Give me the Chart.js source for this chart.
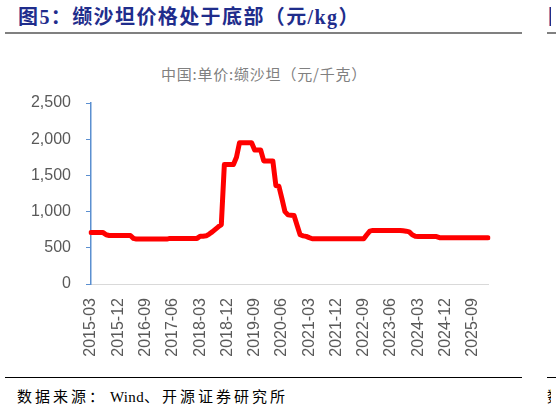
<!DOCTYPE html>
<html>
<head>
<meta charset="utf-8">
<script src="https://cdn.jsdelivr.net/npm/chart.js@4.4.1/dist/chart.umd.min.js"></script>
<style>
  html, body { margin: 0; padding: 0; background: #fff; }
  body { width: 556px; height: 408px; position: relative; overflow: hidden; }
  .abs { position: absolute; }
  #title { left: 18px; top: 1px; font: bold 20px "Liberation Serif", "Noto Sans CJK SC", serif; letter-spacing: 1.4px; color: #1f2d8c; white-space: nowrap; }
  #sub { left: 264px; top: 63px; transform: translateX(-50%); font: 15px "Noto Sans CJK SC", sans-serif; letter-spacing: 0.8px; color: #808080; white-space: nowrap; }
  .rule-top { top: 32px; height: 2px; background: #808080; }
  .rule-bot { top: 377px; height: 1px; background: #000; }
  #source { left: 17px; top: 385px; font: 15px "Liberation Serif", "Noto Sans CJK SC", serif; letter-spacing: 3px; color: #000; white-space: nowrap; }
  #source .lat { letter-spacing: 0.3px; margin-left: 3px; }
  .clip { overflow: hidden; white-space: nowrap; }
  #wrap { left: 0; top: 40px; width: 556px; height: 330px; }
</style>
</head>
<body>
<div id="title" class="abs">图5：缬沙坦价格处于底部（元/kg）</div>
<div class="abs rule-top" style="left:5px;width:517px"></div>
<div class="abs rule-top" style="left:547px;width:9px"></div>
<div class="abs clip" style="left:548px;top:1px;width:3px;font:bold 20px 'Noto Sans CJK SC';color:#1f2d8c">图</div>
<div id="sub" class="abs">中国:单价:缬沙坦（元/千克）</div>
<div id="wrap" class="abs"><canvas id="chart"></canvas></div>
<div class="abs rule-bot" style="left:5px;width:517px"></div>
<div class="abs rule-bot" style="left:547px;width:9px"></div>
<div id="source" class="abs">数据来源：<span class="lat">Wind</span>、开源证券研究所</div>
<div class="abs clip" style="left:547px;top:385px;width:4px;font:15px 'Noto Sans CJK SC';color:#000">数</div>
<script>
// monthly categories 2015-03 .. 2026-02
const startYear = 2015, startMonth = 3, monthCount = 132;
const months = [];
for (let i = 0; i < monthCount; i++) {
  const m = startMonth - 1 + i;
  const y = startYear + Math.floor(m / 12);
  months.push(y + "-" + String((m % 12) + 1).padStart(2, "0"));
}

// 缬沙坦单价（元/千克），
const valsartanPrice = [
  710, 710, 710, 710, 710, 680, 670, 670, 670, 670, 670, 670, 670, 670,
  630, 620, 620, 620, 620, 620, 620, 620, 620, 620, 620, 620,
  630, 630, 630, 630, 630, 630, 630, 630, 630, 630,
  660, 660, 665, 690, 720, 755, 790, 820,
  1650, 1650, 1650, 1650, 1750,
  1950, 1950, 1950, 1950, 1950,
  1850, 1850, 1850,
  1700, 1700, 1700, 1700,
  1360, 1350, 1180, 1000, 955, 950, 945, 810, 680, 665, 658, 640, 625,
  625, 625, 625, 625, 625, 625, 625, 625, 625, 625, 625, 625, 625, 625, 625, 625, 625,
  680, 730, 740,
  740, 740, 740, 740, 740, 740, 740, 740, 740,
  735, 730, 720, 680, 660,
  655, 655, 655, 655, 655, 655, 655,
  640, 640, 640, 640, 640, 640, 640, 640, 640, 640, 640, 640, 640, 640, 640, 640, 640,
];

const labelEvery = 9;
const yTicks = [0, 500, 1000, 1500, 2000, 2500];

const axisBlue = "#5b8fd0";
const tickGrey = "#595959";

new Chart(document.getElementById("chart"), {
  type: "line",
  data: {
    labels: months,
    datasets: [{
      data: valsartanPrice,
      borderColor: "#ff0000",
      borderWidth: 5,
      pointRadius: 0,
      tension: 0,
      fill: false,
      borderJoinStyle: "round",
      borderCapStyle: "round",
    }],
  },
  options: {
    responsive: true,
    maintainAspectRatio: false,
    animation: false,
    layout: { padding: { top: 63, right: 68, bottom: 0, left: 0 } },
    plugins: { legend: { display: false }, tooltip: { enabled: false } },
    scales: {
      x: {
        ticks: {
          autoSkip: false,
          maxRotation: 90,
          minRotation: 90,
          padding: 14,
          color: tickGrey,
          font: { family: "Liberation Sans", size: 16 },
          callback: (v, i) => (i % labelEvery === 0 ? months[i] : ""),
        },
        grid: { drawOnChartArea: false, drawTicks: false },
        border: { color: "#d9d9d9", width: 1 },
        afterFit: (axis) => { axis.height = 86; },
      },
      y: {
        min: yTicks[0],
        max: yTicks[yTicks.length - 1],
        ticks: {
          stepSize: 500,
          padding: 15,
          color: tickGrey,
          font: { family: "Liberation Sans", size: 16 },
          callback: (v) => v.toLocaleString("en-US"),
        },
        grid: { drawOnChartArea: false, drawTicks: true, tickLength: 5, color: axisBlue },
        border: { color: axisBlue, width: 1.5 },
        afterFit: (axis) => { axis.width = 91; },
      },
    },
  },
});
</script>
</body>
</html>
